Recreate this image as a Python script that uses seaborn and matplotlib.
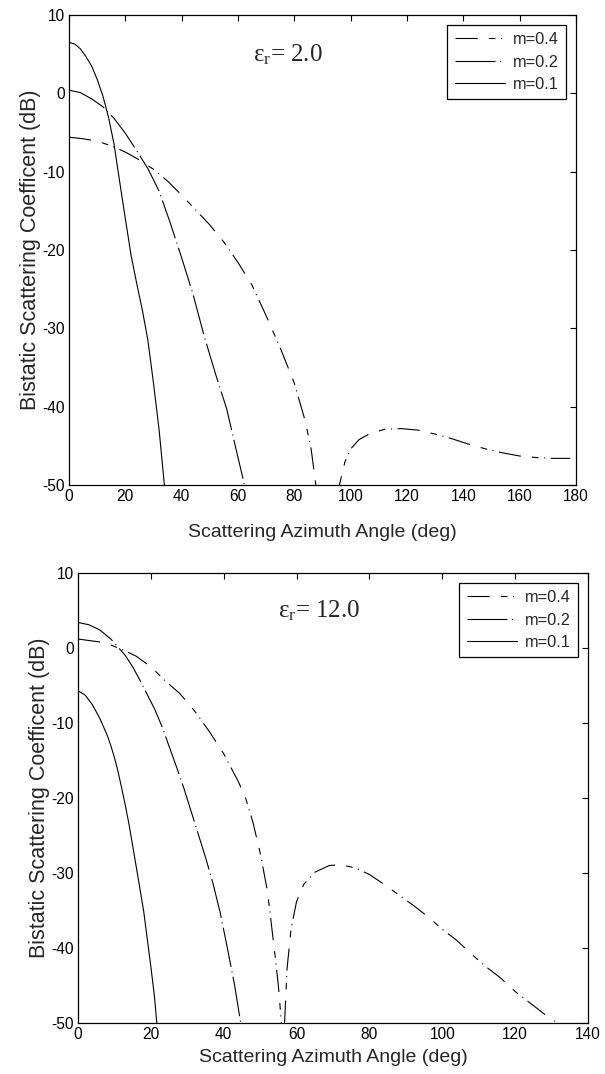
import numpy as np
import pandas as pd
import seaborn as sns
import matplotlib.pyplot as plt

# eps_r = 2.0 panel
ang_a_04 = [0, 5, 10, 15, 20, 25, 30, 35, 40, 45, 50, 55, 60, 65, 70, 75, 80, 84, 86, 88, 89.5, 91, 93, 95, 96, 98, 100, 103, 107, 112, 118, 124, 130, 136, 142, 148, 154, 160, 166, 172, 178]
val_a_04 = [-5.6, -5.8, -6.1, -6.7, -7.5, -8.5, -9.7, -11.2, -13.0, -14.9, -16.8, -19.0, -21.6, -24.5, -28.4, -32.5, -37.0, -42.0, -45.5, -51.0, -58.0, -65.0, -62.0, -54.0, -50.0, -47.0, -45.4, -44.2, -43.4, -42.9, -42.8, -43.0, -43.5, -44.1, -44.8, -45.4, -45.9, -46.3, -46.5, -46.6, -46.6]
ang_a_02 = [0, 4, 8, 12, 16, 20, 24, 28, 32, 36, 40, 44, 48, 52, 56, 60, 62, 63]
val_a_02 = [0.4, 0.1, -0.7, -1.7, -3.2, -5.1, -7.3, -9.6, -12.5, -16.6, -21.0, -25.6, -31.0, -35.8, -40.3, -46.5, -49.5, -51.5]
ang_a_01 = [0, 2, 4, 6, 8, 10, 12, 14, 16, 18, 20, 22, 24, 26, 28, 30, 32, 34]
val_a_01 = [6.5, 6.3, 5.7, 4.7, 3.5, 1.8, -0.3, -3.0, -6.5, -11.3, -16.0, -20.6, -24.2, -27.6, -31.5, -37.0, -43.0, -50.5]

# eps_r = 12.0 panel
ang_b_04 = [0, 3, 6, 9, 11, 13, 16, 20, 24, 28, 32, 36, 40, 44, 46, 48, 50, 52, 54, 55, 56, 56.3, 56.7, 57.4, 58.5, 60, 62, 65, 69, 72, 76, 80, 84, 88, 92, 96, 100, 104, 108, 112, 116, 120, 124, 128, 131]
val_b_04 = [1.2, 1.0, 0.8, 0.4, 0.0, -0.4, -1.1, -2.5, -4.4, -6.1, -8.4, -11.1, -14.1, -17.8, -20.0, -23.2, -27.3, -32.4, -40.6, -45.0, -51.0, -60.0, -50.0, -42.7, -37.4, -33.8, -31.5, -29.9, -29.0, -28.9, -29.3, -30.2, -31.5, -32.9, -34.3, -35.8, -37.5, -39.0, -40.8, -42.5, -44.0, -45.8, -47.3, -48.8, -49.8]
ang_b_02 = [0, 3, 6, 9, 11, 13, 15, 17, 19, 21, 23, 25, 27, 29, 31, 33, 35, 37, 39, 41, 43, 45]
val_b_02 = [3.4, 3.1, 2.4, 1.2, 0.1, -1.0, -2.5, -4.3, -6.2, -8.1, -10.4, -13.1, -15.8, -18.6, -21.7, -24.8, -27.9, -31.3, -35.2, -40.0, -45.0, -51.0]
ang_b_01 = [0, 2, 4, 6, 8, 9, 10, 11, 12, 13, 14, 16, 18, 20, 21, 22]
val_b_01 = [-5.7, -6.3, -7.6, -9.4, -11.6, -13.0, -14.6, -16.5, -18.7, -21.0, -23.5, -29.2, -35.0, -42.5, -46.5, -52.0]

labels = ['m=0.4', 'm=0.2', 'm=0.1']


def make_df(a4, v4, a2, v2, a1, v1):
    parts = []
    for lab, a, v in zip(labels, [a4, a2, a1], [v4, v2, v1]):
        parts.append(pd.DataFrame({'angle': a, 'sigma': v, 'm': lab}))
    return pd.concat(parts, ignore_index=True)


df_a = make_df(ang_a_04, val_a_04, ang_a_02, val_a_02, ang_a_01, val_a_01)
df_b = make_df(ang_b_04, val_b_04, ang_b_02, val_b_02, ang_b_01, val_b_01)

sns.set_style('white')
plt.rcParams['font.family'] = ['Liberation Sans', 'DejaVu Sans']
plt.rcParams['axes.unicode_minus'] = False

dash_map = {'m=0.4': (20, 10, 6, 5, 1, 5), 'm=0.2': (36, 4, 1, 4), 'm=0.1': ''}
pal = {k: 'black' for k in labels}

fig = plt.figure(figsize=(6.05, 10.74), dpi=100)
ax1 = fig.add_axes([69 / 605, 1 - 485 / 1074, 507 / 605, 470 / 1074])
ax2 = fig.add_axes([78 / 605, 1 - 1023 / 1074, 510 / 605, 450 / 1074])


def draw(ax, df, xmax, eps_txt, tx, ty, xpad):
    sns.lineplot(data=df, x='angle', y='sigma', hue='m', style='m', hue_order=labels,
                 style_order=labels, palette=pal, dashes=dash_map, linewidth=0.8, ax=ax)
    ax.set_xlim(0, xmax)
    ax.set_ylim(-50, 10)
    ax.set_xticks(np.arange(0, xmax + 1, 20))
    ax.set_yticks(np.arange(-50, 11, 10))
    ax.tick_params(direction='in', top=True, right=True, length=4, width=0.8,
                   labelsize=11.2, pad=3, colors='black')
    for s in ax.spines.values():
        s.set_color('black')
        s.set_linewidth(0.9)
    ax.set_xlabel('Scattering Azimuth Angle (deg)', fontsize=14, labelpad=xpad)
    ax.set_ylabel('Bistatic Scattering Coefficent (dB)', fontsize=15.5, labelpad=1)
    ax.text(tx, ty, eps_txt, fontsize=18, family='Liberation Serif', va='center', ha='left')
    leg = ax.legend(loc='upper right', fontsize=11.8, frameon=True, fancybox=False,
                    handlelength=3.1, borderaxespad=0.6, labelspacing=0.45,
                    handletextpad=0.45, borderpad=0.45)
    leg.get_frame().set_edgecolor('black')
    leg.get_frame().set_linewidth(0.9)
    leg.get_frame().set_alpha(1)
    leg.set_title(None)


draw(ax1, df_a, 180, r'$\mathregular{\epsilon_r}$= 2.0', 65.5, 4.9, 14)
draw(ax2, df_b, 140, r'$\mathregular{\epsilon_r}$= 12.0', 55, 5.0, 5)

fig.savefig('out.png', dpi=100)
